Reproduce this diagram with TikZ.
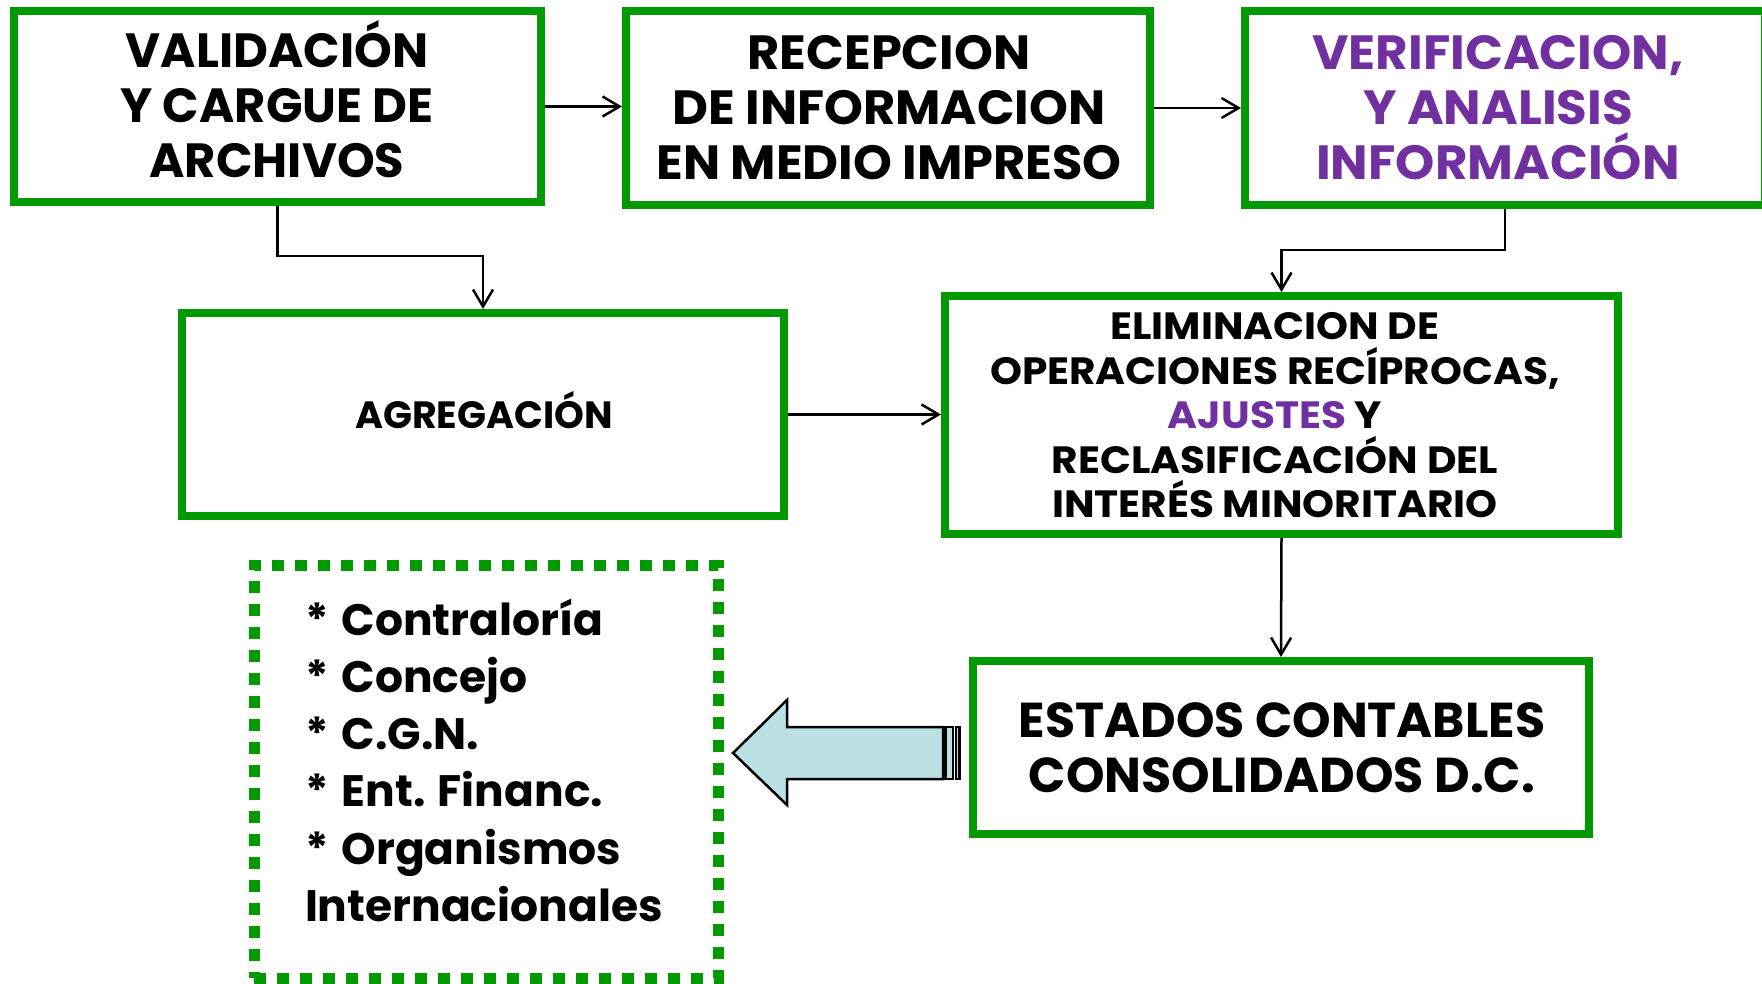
\documentclass[tikz,border=0pt]{standalone}
\usepackage{fontspec}
\setmainfont{Poppins}
\usetikzlibrary{arrows.meta}
\definecolor{boxgreen}{RGB}{0,153,0}
\definecolor{vpurple}{RGB}{112,48,160}
\definecolor{arrowblue}{RGB}{187,224,227}
\newcommand\sml[1]{\smash{#1}}
\newcommand\bul{*\hspace{0.3em}}
\begin{document}
\begin{tikzpicture}[x=1pt,y=-1pt,
  gbox/.style={draw=boxgreen, line width=8pt, fill=white, inner sep=0pt, outer sep=4pt, rectangle},
  conn/.style={line width=2.5pt, -{Straight Barb[length=17pt,width=20pt]}},
  lbl/.style={anchor=base, inner sep=0pt, outer sep=0pt},
  bigtxt/.style={font=\fontsize{48}{55}\selectfont\bfseries},
  midtxt/.style={font=\fontsize{38}{44.5}\selectfont\bfseries},
  esttxt/.style={font=\fontsize{49}{55}\selectfont\bfseries},
  lsttxt/.style={font=\fontsize{44}{57.3}\selectfont\bfseries},
  blockarrow/.style={fill=arrowblue, draw=black, line width=2.5pt, line join=miter}
]
\useasboundingbox (0,0) rectangle (1762,984);
\fill[white] (0,0) rectangle (1762,984);

% boxes
\node[gbox, minimum width=527pt, minimum height=191pt] (b1) at (277.5,106.5) {};
\node[gbox, minimum width=524pt, minimum height=194pt] (b2) at (888,108) {};
\node[gbox, minimum width=520pt, minimum height=194pt] (b3) at (1505,108) {};
\node[gbox, minimum width=602pt, minimum height=203pt] (b4) at (483,414.5) {};
\node[gbox, minimum width=673pt, minimum height=238pt] (b5) at (1281.5,415) {};
\node[gbox, minimum width=616pt, minimum height=173pt] (b6) at (1281,747.5) {};
\node[draw=boxgreen, line width=11pt, dash pattern=on 12pt off 11pt, inner sep=0pt,
      minimum width=464pt, minimum height=413pt] (lst) at (486,771.5) {};

% texts
\node[lbl, bigtxt] (t1) at (277,68) {\begin{tabular}[t]{@{}c@{}}\sml{VALIDACIÓN}\\\sml{Y CARGUE DE}\\\sml{ARCHIVOS}\end{tabular}};
\node[lbl, bigtxt] (t2) at (889,70) {\scalebox{1.03}[1]{\begin{tabular}[t]{@{}c@{}}\sml{RECEPCION}\\\sml{DE INFORMACION}\\\sml{EN MEDIO IMPRESO}\end{tabular}}};
\node[lbl, bigtxt, text=vpurple] (t3) at (1498,70) {\scalebox{1.04}[1]{\begin{tabular}[t]{@{}c@{}}\sml{VERIFICACION,}\\\sml{Y ANALISIS}\\\sml{INFORMACIÓN}\end{tabular}}};
\node[lbl, midtxt] (t4) at (484,428) {AGREGACIÓN};
\node[lbl, midtxt] (t5) at (1275,340) {\scalebox{1.07}[1]{\begin{tabular}[t]{@{}c@{}}\sml{ELIMINACION DE}\\\sml{OPERACIONES RECÍPROCAS,}\\\sml{{\color{vpurple}AJUSTES} Y}\\\sml{RECLASIFICACIÓN DEL}\\\sml{INTERÉS MINORITARIO}\end{tabular}}};
\node[lbl, esttxt] (t6) at (1282,737) {\begin{tabular}[t]{@{}c@{}}\sml{ESTADOS CONTABLES}\\\sml{CONSOLIDADOS D.C.}\end{tabular}};
\node[lbl, lsttxt, anchor=base west] (t7) at (305,635) {\begin{tabular}[t]{@{}l@{}}\sml{\bul Contraloría}\\{}\sml{\bul Concejo}\\{}\sml{\bul C.G.N.}\\{}\sml{\bul Ent. Financ.}\\{}\sml{\bul Organismos}\\{}\sml{Internacionales}\end{tabular}};

% connectors
\coordinate (k1) at (380,256);
\coordinate (k2) at (1400,250);
\draw[conn] (b1.east) -- (b1.east -| b2.west);
\draw[conn] (b2.east) -- (b2.east -| b3.west);
\draw[conn] (b1.south) -- (b1.south |- k1) -| (b4.north);
\draw[conn] (b3.south) -- (b3.south |- k2) -| (b5.north);
\draw[conn] (b4.east) -- (b4.east -| b5.west);
\draw[conn] (b5.south) -- (b6.north);

% striped block arrow from b6 to the list
\draw[blockarrow] (733,753) -- (787,700) -- (787,727) -- (943,727) -- (943,779) -- (787,779) -- (787,805) -- cycle;
\draw[blockarrow] (945.5,727) rectangle (953,779);
\draw[blockarrow] (956,727) rectangle (959.5,779);
\end{tikzpicture}
\end{document}
